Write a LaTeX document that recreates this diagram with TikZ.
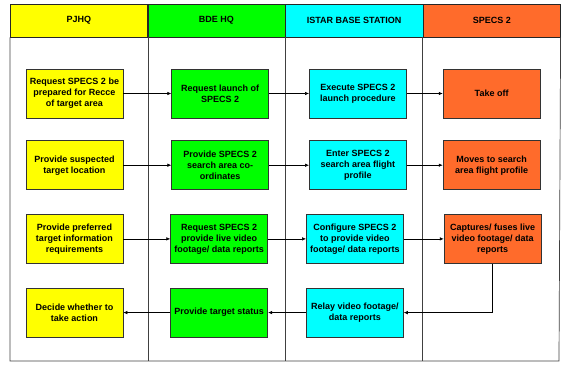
\documentclass[tikz,border=0pt]{standalone}
\usepackage{fontspec}
\setmainfont{Liberation Sans}
\usepackage{xcolor}
\usepackage{tikz}
\usetikzlibrary{arrows.meta,positioning}
\definecolor{LaneYellow}{HTML}{FFFF00}
\definecolor{LaneGreen}{HTML}{00FF00}
\definecolor{LaneCyan}{HTML}{00FFFF}
\definecolor{LaneOrange}{HTML}{FF6B2B}

\begin{document}
\begin{tikzpicture}[
  x=1pt, y=-1pt,
  font=\fontsize{9}{11}\selectfont\bfseries,
  lanehead/.style={draw=black!85, minimum width=137.25pt, minimum height=33pt, inner sep=0pt, anchor=north west},
  lane/.style={draw=black!75, line width=0.7pt},
  task/.style={draw=black!80, line width=0.7pt, minimum width=97pt, minimum height=49pt, align=center, inner sep=1pt},
  arrow/.style={-{Latex[length=4pt,width=3.5pt]}, line width=0.6pt}
]
  \useasboundingbox (0,0) rectangle (563,366);

  % swim lanes
  \node[lanehead, fill=LaneYellow] (pjhq) at (10,4) {PJHQ};
  \node[lanehead, fill=LaneGreen, right=0pt of pjhq] (bdehq) {BDE HQ};
  \node[lanehead, fill=LaneCyan, right=0pt of bdehq] (istar) {ISTAR BASE STATION};
  \node[lanehead, fill=LaneOrange, right=0pt of istar] (specs) {SPECS 2};
  \draw[lane] (pjhq.south west) -- (10,361) -- (559,361) -- (specs.south east);
  \foreach \x in {148,285,422}
    \draw[lane] (\x,37) -- (\x,361);

  % row 1
  \node[task, fill=LaneYellow] (prepare) at (74.5,93.5) {Request SPECS 2 be\\prepared for Recce\\of target area};
  \node[task, fill=LaneGreen, right=48pt of prepare] (launch) {Request launch of\\SPECS 2};
  \node[task, fill=LaneCyan, right=40pt of launch] (execute) {Execute SPECS 2\\launch procedure};
  \node[task, fill=LaneOrange, right=36pt of execute] (takeoff) {Take off};

  % row 2
  \node[task, fill=LaneYellow, below=22pt of prepare] (location) {Provide suspected\\target location};
  \node[task, fill=LaneGreen, right=48pt of location] (coords) {Provide SPECS 2\\search area co-\\ordinates};
  \node[task, fill=LaneCyan, right=40pt of coords] (enter) {Enter SPECS 2\\search area flight\\profile};
  \node[task, fill=LaneOrange, right=36pt of enter] (moves) {Moves to search\\area flight profile};

  % row 3
  \node[task, fill=LaneYellow, below=24pt of location] (needs) {Provide preferred\\target information\\requirements};
  \node[task, fill=LaneGreen, right=47pt of needs] (video) {Request SPECS 2\\provide live video\\footage/ data reports};
  \node[task, fill=LaneCyan, right=38pt of video] (configure) {Configure SPECS 2\\to provide video\\footage/ data reports};
  \node[task, fill=LaneOrange, right=40pt of configure] (fuse) {Captures/ fuses live\\video footage/ data\\reports};

  % row 4
  \node[task, fill=LaneYellow, below=24pt of needs] (decide) {Decide whether to\\take action};
  \node[task, fill=LaneGreen, right=47pt of decide] (status) {Provide target status};
  \node[task, fill=LaneCyan, right=38pt of status] (relay) {Relay video footage/\\data reports};

  \draw[arrow] (prepare) -- (launch);
  \draw[arrow] (launch) -- (execute);
  \draw[arrow] (execute) -- (takeoff);
  \draw[arrow] (location) -- (coords);
  \draw[arrow] (coords) -- (enter);
  \draw[arrow] (enter) -- (moves);
  \draw[arrow] (needs) -- (video);
  \draw[arrow] (video) -- (configure);
  \draw[arrow] (configure) -- (fuse);
  \draw[arrow] (fuse.south) |- (relay.east);
  \draw[arrow] (relay) -- (status);
  \draw[arrow] (status) -- (decide);
\end{tikzpicture}
\end{document}
